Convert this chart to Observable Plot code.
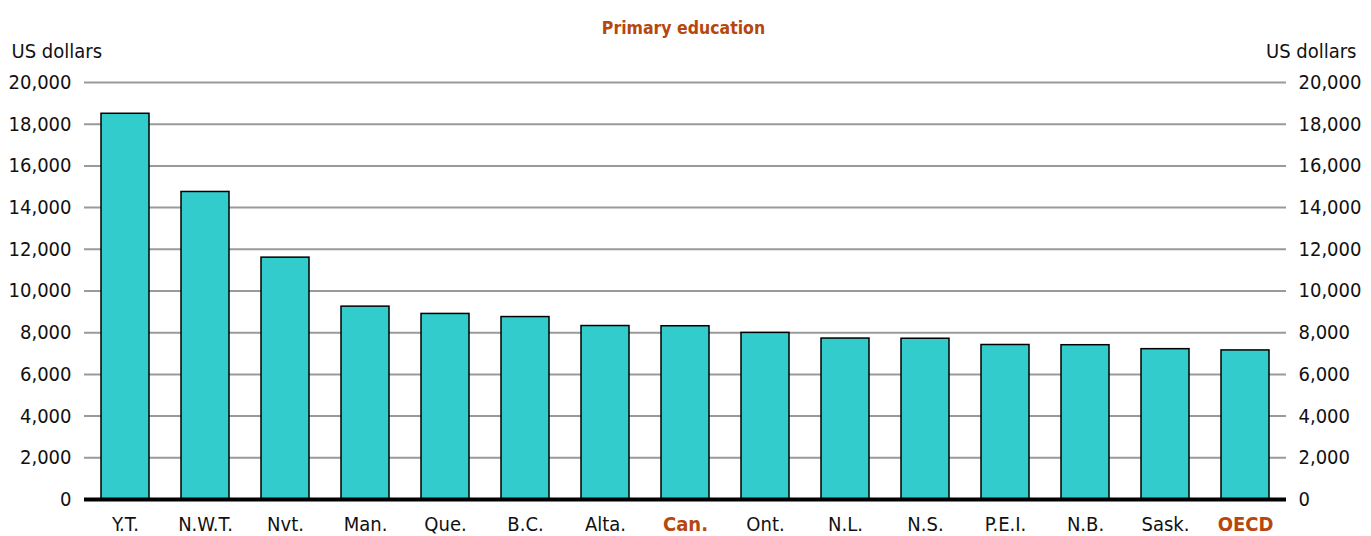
<!DOCTYPE html>
<html>
<head>
<meta charset="utf-8">
<script src="https://cdn.jsdelivr.net/npm/d3@7"></script>
<script src="https://cdn.jsdelivr.net/npm/@observablehq/plot@0.6"></script>
<style>
  html, body { margin: 0; padding: 0; background: #fff; }
  #chart svg { display: block; }
</style>
</head>
<body>
<div id="chart"></div>
<script>
const categories = ["Y.T.","N.W.T.","Nvt.","Man.","Que.","B.C.","Alta.","Can.","Ont.","N.L.","N.S.","P.E.I.","N.B.","Sask.","OECD"];
const values = [18500, 14750, 11600, 9250, 8900, 8750, 8320, 8310, 7990, 7720, 7710, 7410, 7400, 7210, 7150];
const highlighted = ["Can.", "OECD"];
const yTicks = [0, 2000, 4000, 6000, 8000, 10000, 12000, 14000, 16000, 18000, 20000];
const title = "Primary education";
const unitLabel = "US dollars";

const data = categories.map((name, i) => ({name, value: values[i]}));
const FONT = '"DejaVu Sans Condensed", "Liberation Sans Narrow", sans-serif';
const ACCENT = "#b5470f";
const FS = 20;

const chart = Plot.plot({
  width: 1371,
  height: 536,
  marginTop: 82,
  marginBottom: 37,
  marginLeft: 84,
  marginRight: 85,
  style: {fontFamily: FONT, fontSize: FS + "px", color: "#111", background: "#fff"},
  x: {domain: categories, paddingInner: 0.4, paddingOuter: 0.2, axis: null},
  y: {domain: [0, 20000], axis: null},
  marks: [
    Plot.ruleY(yTicks.filter(d => d > 0), {stroke: "#9a9a9a", strokeWidth: 2}),
    Plot.barY(data, {x: "name", y: "value", fill: "#33cccc", stroke: "#000", strokeWidth: 1.5}),
    Plot.ruleY([0], {stroke: "#000", strokeWidth: 4}),
    Plot.axisY({anchor: "left", ticks: yTicks, tickSize: 0, tickPadding: 13, tickFormat: d3.format(","), label: null, fontSize: FS}),
    Plot.axisY({anchor: "right", ticks: yTicks, tickSize: 0, tickPadding: 12, tickFormat: d3.format(","), label: null, fontSize: FS}),
    Plot.text(data.filter(d => !highlighted.includes(d.name)), {x: "name", text: "name", frameAnchor: "bottom", dy: 31, lineAnchor: "bottom", fontSize: FS, fill: "#111"}),
    Plot.text(data.filter(d => highlighted.includes(d.name)), {x: "name", text: "name", frameAnchor: "bottom", dy: 31, lineAnchor: "bottom", fontSize: FS, fontWeight: "bold", fill: ACCENT}),
    Plot.text([title], {frameAnchor: "top", dy: -49, lineAnchor: "bottom", fontSize: 17.5, fontWeight: "bold", fill: ACCENT, dx: -2}),
    Plot.text([unitLabel], {frameAnchor: "top-left", dx: -73, dy: -25, textAnchor: "start", lineAnchor: "bottom", fontSize: FS, fill: "#111"}),
    Plot.text([unitLabel], {frameAnchor: "top-right", dx: 70, dy: -25, textAnchor: "end", lineAnchor: "bottom", fontSize: FS, fill: "#111"})
  ]
});
document.getElementById("chart").appendChild(chart);
</script>
</body>
</html>
